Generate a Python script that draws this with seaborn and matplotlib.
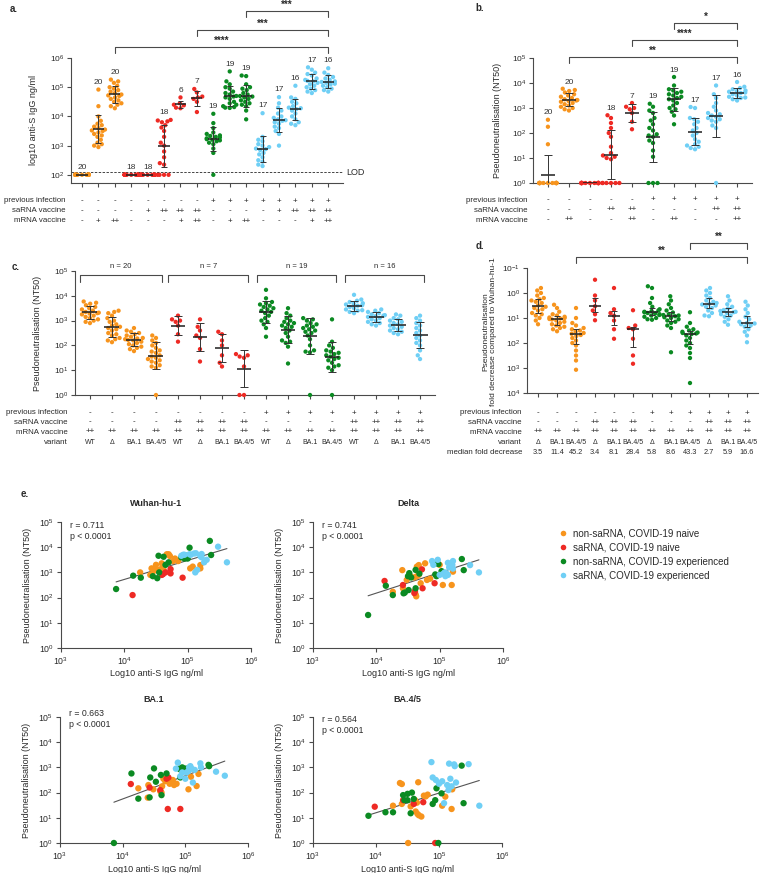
import numpy as np
import pandas as pd
import matplotlib
matplotlib.use('Agg')
import matplotlib.pyplot as plt
import matplotlib.transforms as mtransforms
from matplotlib.lines import Line2D
import seaborn as sns
from warnings import filterwarnings
filterwarnings('ignore')

## ---------------- data (log10 values) ----------------
## panel a: anti-S IgG, 16 groups
a_log10 = [
    [2.0, 2.0, 2.0, 2.0, 2.0, 2.0, 2.0, 2.0, 2.0, 2.0, 2.0, 2.0, 2.0, 2.0, 2.0, 2.0, 2.0, 2.0, 2.0, 2.0],
    [4.92, 4.35, 4.00, 3.85, 3.75, 3.70, 3.65, 3.60, 3.55, 3.52, 3.50, 3.45, 3.40, 3.35, 3.30, 3.20, 3.10, 3.05, 3.00, 2.95],
    [5.26, 5.20, 5.15, 5.05, 5.00, 4.95, 4.90, 4.85, 4.80, 4.75, 4.72, 4.70, 4.65, 4.60, 4.55, 4.50, 4.45, 4.40, 4.35, 4.28],
    [2.0, 2.0, 2.0, 2.0, 2.0, 2.0, 2.0, 2.0, 2.0, 2.0, 2.0, 2.0, 2.0, 2.0, 2.0, 2.0, 2.0, 2.0],
    [2.0, 2.0, 2.0, 2.0, 2.0, 2.0, 2.0, 2.0, 2.0, 2.0, 2.0, 2.0, 2.0, 2.0, 2.0, 2.0, 2.0, 2.0],
    [3.88, 3.86, 3.83, 3.80, 3.70, 3.62, 3.50, 3.30, 3.10, 3.00, 2.80, 2.60, 2.40, 2.35, 2.00, 2.00, 2.00, 2.00],
    [4.65, 4.45, 4.40, 4.38, 4.30, 4.28],
    [4.94, 4.82, 4.68, 4.65, 4.60, 4.50, 4.15],
    [4.09, 3.77, 3.60, 3.45, 3.40, 3.35, 3.33, 3.30, 3.28, 3.25, 3.22, 3.20, 3.18, 3.15, 3.10, 3.05, 2.90, 2.75, 2.00],
    [5.54, 5.20, 5.10, 5.00, 4.95, 4.85, 4.80, 4.75, 4.70, 4.68, 4.65, 4.60, 4.50, 4.45, 4.40, 4.35, 4.32, 4.30, 4.29],
    [5.40, 5.38, 5.10, 5.00, 4.95, 4.90, 4.80, 4.75, 4.70, 4.68, 4.65, 4.60, 4.55, 4.50, 4.45, 4.40, 4.35, 4.20, 3.90],
    [4.11, 3.30, 3.20, 3.15, 3.05, 3.00, 2.95, 2.90, 2.88, 2.85, 2.75, 2.70, 2.60, 2.50, 2.45, 2.35, 2.30],
    [4.66, 4.45, 4.30, 4.20, 4.10, 4.00, 3.95, 3.90, 3.87, 3.85, 3.80, 3.75, 3.65, 3.60, 3.50, 3.40, 3.00],
    [5.05, 4.65, 4.60, 4.50, 4.45, 4.35, 4.30, 4.28, 4.25, 4.20, 4.10, 4.00, 3.90, 3.80, 3.75, 3.70],
    [5.68, 5.60, 5.50, 5.45, 5.40, 5.30, 5.25, 5.22, 5.20, 5.15, 5.10, 5.05, 5.00, 4.95, 4.90, 4.85, 4.80],
    [5.65, 5.50, 5.42, 5.35, 5.30, 5.25, 5.20, 5.18, 5.15, 5.12, 5.10, 5.05, 5.00, 4.95, 4.90, 4.85],
]
a_colors = ['o', 'o', 'o', 'r', 'r', 'r', 'r', 'r', 'g', 'g', 'g', 'b', 'b', 'b', 'b', 'b']
a_n = ['20', '20', '20', '18', '18', '18', '6', '7', '19', '19', '19', '17', '17', '16', '17', '16']
a_prev = ['-'] * 8 + ['+'] * 8
a_sarna = ['-', '-', '-', '-', '+', '++', '++', '++', '-', '-', '-', '-', '+', '++', '++', '++']
a_mrna = ['-', '+', '++', '-', '-', '-', '+', '++', '-', '+', '++', '-', '-', '-', '+', '++']
a_lod = 2.09

## panel b: NT50, 10 groups
b_log10 = [
    [2.53, 2.25, 1.55, 0, 0, 0, 0, 0, 0, 0, 0, 0, 0, 0, 0, 0, 0, 0, 0, 0],
    [3.77, 3.72, 3.68, 3.62, 3.55, 3.50, 3.45, 3.40, 3.35, 3.32, 3.30, 3.28, 3.25, 3.20, 3.15, 3.10, 3.05, 3.00, 2.95, 2.90],
    [0, 0, 0, 0, 0, 0, 0, 0, 0, 0, 0, 0, 0, 0, 0, 0, 0, 0],
    [2.71, 2.60, 2.40, 2.20, 2.00, 1.85, 1.45, 1.20, 1.10, 1.05, 1.00, 0.95, 0, 0, 0, 0, 0, 0],
    [3.20, 3.05, 3.00, 2.95, 2.80, 2.45, 2.15],
    [3.17, 3.05, 2.90, 2.80, 2.60, 2.50, 2.35, 2.20, 2.10, 1.95, 1.90, 1.85, 1.70, 1.60, 1.30, 1.05, 0, 0, 0],
    [4.24, 3.90, 3.75, 3.70, 3.65, 3.60, 3.55, 3.50, 3.45, 3.40, 3.35, 3.30, 3.20, 3.10, 3.00, 2.95, 2.85, 2.70, 2.35],
    [3.04, 3.00, 2.60, 2.55, 2.45, 2.35, 2.20, 2.10, 2.00, 1.90, 1.75, 1.65, 1.55, 1.50, 1.45, 1.40, 1.35],
    [3.90, 3.55, 3.40, 3.20, 3.05, 2.90, 2.80, 2.75, 2.70, 2.65, 2.60, 2.55, 2.50, 2.45, 2.30, 2.20, 0],
    [4.04, 3.85, 3.80, 3.75, 3.70, 3.68, 3.65, 3.62, 3.60, 3.55, 3.50, 3.45, 3.42, 3.40, 3.35, 3.30],
]
b_colors = ['o', 'o', 'r', 'r', 'r', 'g', 'g', 'b', 'b', 'b']
b_n = ['20', '20', '', '18', '7', '19', '19', '17', '17', '16']
b_prev = ['-'] * 5 + ['+'] * 5
b_sarna = ['-', '-', '-', '++', '++', '-', '-', '-', '++', '++']
b_mrna = ['-', '++', '-', '-', '++', '-', '++', '-', '-', '++']

## panel c: NT50 per variant, 16 groups
c_log10 = [
    b_log10[1],
    [3.40, 3.35, 3.30, 3.20, 3.10, 3.00, 2.95, 2.85, 2.80, 2.75, 2.70, 2.65, 2.60, 2.50, 2.45, 2.40, 2.30, 2.25, 2.20, 2.13],
    [2.70, 2.60, 2.55, 2.50, 2.45, 2.40, 2.35, 2.30, 2.28, 2.25, 2.22, 2.20, 2.15, 2.10, 2.05, 2.00, 1.95, 1.90, 1.85, 1.77],
    [2.40, 2.30, 2.20, 2.10, 2.00, 1.90, 1.80, 1.75, 1.70, 1.60, 1.55, 1.50, 1.45, 1.40, 1.35, 1.30, 1.20, 1.15, 1.10, 0],
    b_log10[4],
    [3.05, 2.75, 2.60, 2.40, 2.30, 1.85, 1.35],
    [2.55, 2.45, 2.20, 2.00, 1.60, 1.30, 1.15],
    [1.65, 1.60, 1.55, 1.50, 1.15, 0, 0],
    b_log10[6],
    [3.50, 3.30, 3.20, 3.10, 3.00, 2.95, 2.90, 2.85, 2.80, 2.75, 2.70, 2.60, 2.50, 2.35, 2.20, 2.15, 2.10, 1.95, 1.27],
    [3.10, 3.05, 3.00, 2.90, 2.85, 2.80, 2.75, 2.70, 2.65, 2.60, 2.55, 2.50, 2.40, 2.25, 2.00, 1.80, 1.75, 1.72, 0],
    [3.05, 2.15, 2.00, 1.90, 1.80, 1.75, 1.70, 1.65, 1.60, 1.55, 1.50, 1.45, 1.40, 1.30, 1.20, 1.15, 1.10, 1.00, 0],
    b_log10[9],
    [3.45, 3.40, 3.35, 3.30, 3.25, 3.22, 3.20, 3.18, 3.15, 3.10, 3.05, 3.00, 2.95, 2.90, 2.85, 2.80],
    [3.25, 3.20, 3.10, 3.05, 3.00, 2.95, 2.90, 2.85, 2.80, 2.75, 2.70, 2.65, 2.60, 2.55, 2.50, 2.45],
    [3.20, 3.10, 3.00, 2.90, 2.80, 2.70, 2.60, 2.50, 2.40, 2.30, 2.20, 2.10, 2.00, 1.80, 1.60, 1.45],
]
c_colors = ['o'] * 4 + ['r'] * 4 + ['g'] * 4 + ['b'] * 4
c_prev = ['-'] * 8 + ['+'] * 8
c_sarna = ['-'] * 4 + ['++'] * 4 + ['-'] * 4 + ['++'] * 4
c_mrna = ['++'] * 16
c_variant = ['WT', 'Δ', 'BA.1', 'BA.4/5'] * 4
c_groups = ['n = 20', 'n = 7', 'n = 19', 'n = 16']

## panel d: fold decrease vs Wuhan-hu-1, 12 groups
d_log10 = [
    [-0.2, -0.1, 0.0, 0.1, 0.2, 0.25, 0.3, 0.35, 0.4, 0.5, 0.55, 0.6, 0.65, 0.7, 0.8, 0.85, 0.9, 1.0, 1.1, 1.25],
    [0.47, 0.6, 0.75, 0.85, 0.9, 0.95, 0.98, 1.0, 1.02, 1.04, 1.06, 1.1, 1.15, 1.2, 1.25, 1.3, 1.35, 1.4, 1.45, 1.53],
    [0.6, 1.0, 1.2, 1.3, 1.4, 1.45, 1.5, 1.55, 1.6, 1.63, 1.68, 1.72, 1.8, 1.9, 2.0, 2.1, 2.3, 2.5, 2.7, 3.07],
    [-0.53, 0.1, 0.3, 0.53, 0.7, 0.85, 1.09],
    [-0.2, 0.65, 0.8, 0.91, 1.1, 1.45, 1.83],
    [0.69, 1.3, 1.4, 1.45, 1.83, 2.5, 2.83],
    [-0.27, -0.2, 0.2, 0.4, 0.55, 0.65, 0.7, 0.72, 0.75, 0.77, 0.8, 0.82, 0.85, 0.88, 0.9, 0.95, 1.0, 1.05, 1.07],
    [0.13, 0.3, 0.45, 0.6, 0.7, 0.78, 0.85, 0.88, 0.9, 0.93, 0.97, 1.0, 1.05, 1.1, 1.15, 1.2, 1.3, 1.4, 2.37],
    [0.77, 1.2, 1.35, 1.45, 1.5, 1.55, 1.58, 1.6, 1.62, 1.64, 1.7, 1.8, 1.9, 2.0, 2.1, 2.2, 2.4, 2.6, 3.6],
    [-0.2, -0.1, 0.0, 0.1, 0.2, 0.3, 0.35, 0.4, 0.43, 0.46, 0.5, 0.55, 0.6, 0.7, 0.8, 0.9, 0.93],
    [0.13, 0.3, 0.45, 0.55, 0.62, 0.68, 0.72, 0.75, 0.77, 0.8, 0.85, 0.9, 0.95, 1.05, 1.15, 1.27],
    [0.35, 0.5, 0.65, 0.8, 0.95, 1.05, 1.15, 1.2, 1.22, 1.25, 1.3, 1.35, 1.45, 1.55, 1.7, 1.97],
]
d_colors = ['o'] * 3 + ['r'] * 3 + ['g'] * 3 + ['b'] * 3
d_prev = ['-'] * 6 + ['+'] * 6
d_sarna = ['-'] * 3 + ['++'] * 3 + ['-'] * 3 + ['++'] * 3
d_mrna = ['++'] * 12
d_variant = ['Δ', 'BA.1', 'BA.4/5'] * 4
d_median = ['3.5', '11.4', '45.2', '3.4', '8.1', '28.4', '5.8', '8.6', '43.3', '2.7', '5.9', '16.6']

## panel e: log10 anti-S IgG (x) vs log10 NT50 (y); order: orange, red, green, blue
e_groups = ['non-saRNA, COVID-19 naive', 'saRNA, COVID-19 naive',
            'non-saRNA, COVID-19 experienced', 'saRNA, COVID-19 experienced']
wuhan_x = [[4.25, 4.41, 4.43, 4.48, 4.46, 4.50, 4.55, 4.59, 4.60, 4.62, 4.67, 4.70, 4.72, 4.77, 4.80, 4.85, 5.04, 5.08, 5.20, 5.20],
           [4.13, 4.59, 4.61, 4.73, 4.73, 4.92, 4.65],
           [3.87, 4.14, 4.26, 4.52, 4.54, 4.62, 4.70, 4.93, 4.96, 4.98, 5.03, 5.35, 5.37, 4.95, 4.55, 4.65, 4.90, 5.00, 4.45],
           [4.90, 4.93, 5.03, 5.10, 5.13, 5.22, 5.22, 5.12, 5.26, 5.48, 5.62, 5.30, 5.15, 5.05, 4.95, 5.20]]
wuhan_y = [[3.00, 2.90, 3.16, 3.16, 3.05, 3.30, 3.10, 3.36, 3.20, 3.10, 3.72, 3.72, 3.65, 3.45, 3.55, 3.45, 3.16, 3.23, 3.29, 3.16],
           [2.10, 2.90, 2.93, 3.13, 2.96, 2.79, 3.00],
           [2.34, 2.87, 2.79, 2.77, 3.66, 3.62, 3.40, 3.63, 3.60, 3.66, 3.98, 4.25, 3.69, 3.55, 3.00, 3.30, 3.60, 3.55, 2.85],
           [3.66, 3.70, 3.72, 3.75, 3.76, 3.73, 3.60, 3.00, 3.40, 4.02, 3.40, 3.50, 3.10, 3.70, 3.70, 3.65]]
delta_x = [[4.26, 4.41, 4.42, 4.48, 4.54, 4.60, 4.64, 4.67, 4.62, 4.64, 4.67, 4.70, 4.77, 4.80, 4.85, 5.00, 5.05, 5.19, 5.21, 4.63],
           [4.13, 4.42, 4.61, 4.73, 4.92, 4.72, 4.60],
           [3.87, 4.15, 4.26, 4.43, 4.51, 4.52, 4.55, 4.62, 4.62, 4.68, 4.93, 4.95, 4.91, 4.98, 5.03, 5.35, 5.38, 4.50, 4.45],
           [4.88, 4.90, 4.97, 5.06, 5.09, 5.11, 5.13, 5.13, 5.15, 5.20, 5.21, 5.21, 5.48, 5.62, 5.08, 5.00]]
delta_y = [[2.23, 3.09, 2.37, 2.70, 2.85, 2.80, 2.85, 2.90, 2.13, 3.23, 3.29, 2.57, 3.36, 2.70, 2.75, 3.30, 2.50, 2.50, 3.03, 2.05],
           [2.66, 2.50, 2.26, 2.37, 2.57, 3.12, 2.18],
           [1.31, 2.47, 2.10, 2.17, 2.30, 2.97, 2.80, 2.37, 3.10, 2.95, 2.92, 2.85, 3.35, 3.33, 3.05, 3.53, 3.09, 2.85, 2.20],
           [3.45, 3.30, 3.50, 2.95, 2.85, 2.95, 2.90, 3.38, 3.20, 3.30, 3.45, 3.15, 3.29, 3.00, 3.00, 2.90]]
ba1_x = [[4.25, 4.40, 4.41, 4.49, 4.60, 4.62, 4.63, 4.65, 4.68, 4.70, 4.73, 4.75, 4.79, 4.82, 4.86, 4.80, 5.05, 5.09, 5.18, 5.21],
         [4.13, 4.43, 4.73, 4.72, 4.92, 4.70, 4.60],
         [3.86, 4.14, 4.25, 4.43, 4.44, 4.50, 4.53, 4.61, 4.62, 4.70, 4.90, 4.93, 4.95, 4.96, 4.98, 5.01, 4.92, 5.37, 5.38],
         [4.88, 4.85, 4.92, 5.00, 5.02, 5.06, 5.08, 5.12, 5.10, 5.15, 5.24, 5.25, 5.49, 5.63, 4.95, 5.05]]
ba1_y = [[2.17, 1.80, 2.30, 2.13, 2.05, 2.00, 2.25, 2.55, 2.45, 2.50, 2.45, 2.35, 2.40, 2.30, 2.35, 2.50, 2.13, 2.63, 2.26, 2.74],
         [2.34, 2.20, 2.60, 1.35, 1.35, 2.55, 2.10],
         [0.00, 2.76, 1.76, 1.81, 2.60, 2.96, 2.43, 2.70, 1.90, 2.76, 2.95, 2.90, 3.00, 2.90, 2.95, 2.95, 2.60, 3.10, 3.05],
         [3.19, 2.95, 2.65, 2.55, 2.80, 3.00, 3.05, 2.40, 2.95, 2.90, 3.16, 3.00, 2.83, 2.67, 2.80, 2.85]]
ba45_x = [[4.27, 4.38, 4.41, 4.67, 4.41, 4.51, 4.55, 4.62, 4.65, 4.63, 4.66, 4.68, 4.72, 4.76, 4.79, 4.82, 5.10, 5.05, 5.20, 5.21],
          [3.98, 4.43, 4.60, 4.75, 4.94],
          [3.88, 4.15, 4.27, 4.43, 4.50, 4.57, 4.50, 4.45, 4.60, 4.55, 4.96, 5.04, 4.94, 4.90, 5.36, 5.39, 4.99],
          [4.88, 5.16, 5.24, 5.25, 5.47, 4.90, 4.95, 5.05, 5.13, 5.18, 5.20, 5.27, 5.00, 5.08, 5.64, 5.15]]
ba45_y = [[1.48, 2.38, 2.34, 2.41, 1.55, 0.00, 1.45, 1.70, 1.60, 1.25, 1.15, 1.10, 1.05, 1.88, 1.85, 1.92, 1.84, 1.48, 1.35, 2.13],
          [1.44, 1.70, 1.55, 1.62, 0.00],
          [1.08, 1.22, 1.22, 1.90, 1.95, 2.00, 1.70, 1.70, 1.75, 1.18, 2.17, 1.97, 1.70, 1.55, 3.07, 1.58, 0.00],
          [3.21, 3.15, 3.12, 3.05, 3.13, 2.60, 2.50, 2.45, 2.30, 2.55, 2.25, 2.40, 2.35, 1.58, 1.48, 2.10]]
e_titles = ['Wuhan-hu-1', 'Delta', 'BA.1', 'BA.4/5']
e_stats = ['r = 0.711\np < 0.0001', 'r = 0.741\np < 0.0001', 'r = 0.663\np < 0.0001', 'r = 0.564\np < 0.0001']

## ---------------- style ----------------
COL = {'o': '#f7941d', 'r': '#ee2a24', 'g': '#0b8a22', 'b': '#6fcff5'}
AXC = '#4a4a4a'
TXT = '#2a2a2a'
W, H = 763, 873
ROWFS = 5.7

sns.set_style('ticks')
plt.rcParams['font.family'] = ['Liberation Sans', 'DejaVu Sans']
plt.rcParams['mathtext.fontset'] = 'custom'
plt.rcParams['mathtext.rm'] = 'Liberation Sans'
plt.rcParams['mathtext.it'] = 'Liberation Sans:italic'
plt.rcParams['mathtext.bf'] = 'Liberation Sans:bold'

fig = plt.figure(figsize=(W / 100, H / 100), dpi=100)


def fx(x):
    return x / W


def fy(y):
    return 1 - y / H


def add_ax(l, t, r, b):
    return fig.add_axes([l / W, 1 - b / H, (r - l) / W, (b - t) / H])


def style(ax):
    sns.despine(ax=ax)
    for s in ('left', 'bottom'):
        ax.spines[s].set_color(AXC)
        ax.spines[s].set_linewidth(0.8)
    ax.tick_params(colors=AXC, labelcolor=TXT, labelsize=6, width=0.8, length=3, pad=2)


def pow_labels(ticks):
    return [f'$10^{{{t}}}$' for t in ticks]


def dot_panel(ax, vals, cols, xlim, ylim, yticks, summary='mean'):
    names = [f'g{i}' for i in range(len(vals))]
    df = pd.DataFrame({'grp': np.repeat(names, [len(v) for v in vals]),
                       'val': np.concatenate([np.asarray(v, float) for v in vals])})
    ax.set_ylim(*ylim)
    sns.swarmplot(data=df, x='grp', y='val', hue='grp', order=names, hue_order=names,
                  palette=dict(zip(names, [COL[c] for c in cols])), size=3.1,
                  linewidth=0, legend=False, warn_thresh=1, clip_on=False, ax=ax)
    for i, v in enumerate(vals):
        v = np.asarray(v, float)
        if summary == 'mean':
            mid = v.mean()
            sd = v.std(ddof=1)
            lo, hi = mid - sd, mid + sd
        else:
            mid = np.median(v)
            lo, hi = np.percentile(v, [25, 75])
        ax.hlines(mid, i - 0.34, i + 0.34, color='#1e1e1e', lw=1.1, zorder=5)
        ax.vlines(i, lo, hi, color='#333333', lw=0.7, zorder=5)
        ax.hlines([lo, hi], i - 0.18, i + 0.18, color='#333333', lw=0.7, zorder=5)
    ax.set_xlim(*xlim)
    ax.set_ylim(*ylim)
    ax.set_xticks(range(len(vals)))
    ax.set_xticklabels([])
    ax.set_yticks(yticks)
    ax.set_yticklabels(pow_labels(yticks))
    ax.set_xlabel('')
    ax.set_ylabel('')
    style(ax)


def table_rows(ax, rows, names, ys, xname, sizes=None):
    tr = mtransforms.blended_transform_factory(ax.transData, fig.transFigure)
    sizes = sizes or [5.8] * len(rows)
    for row, name, y, fs in zip(rows, names, ys, sizes):
        fig.text(fx(xname), fy(y), name, ha='right', va='center', fontsize=ROWFS, color=TXT)
        for i, s in enumerate(row):
            ax.text(i, fy(y), s, transform=tr, ha='center', va='center', fontsize=fs, color=TXT)


def bracket(ax, i0, i1, ypx, text, tpx, drop=6, bold=True, fs=7):
    tr = mtransforms.blended_transform_factory(ax.transData, fig.transFigure)
    ax.plot([i0, i0, i1, i1], [fy(ypx + drop), fy(ypx), fy(ypx), fy(ypx + drop)],
            transform=tr, color=AXC, lw=0.8, clip_on=False)
    ax.text((i0 + i1) / 2, fy(tpx), text, transform=tr, ha='center', va='center',
            fontsize=fs, fontweight='bold' if bold else 'normal', color=TXT)


def n_labels(ax, vals, labels):
    for i, (v, s) in enumerate(zip(vals, labels)):
        if s:
            ax.text(i, max(v) + 0.13, s, ha='center', va='bottom', fontsize=6, color='#333333')


## ---------------- panel a ----------------
ax_a = add_ax(71, 58, 343, 183)
dot_panel(ax_a, a_log10, a_colors, (-0.67, 15.9), (1.72, 6), [2, 3, 4, 5, 6])
n_labels(ax_a, a_log10, a_n)
ax_a.axhline(a_lod, color='#444444', lw=0.7, ls=(0, (2.5, 1.5)), xmax=1, zorder=1)
ax_a.text(1.012, a_lod, 'LOD', transform=mtransforms.blended_transform_factory(ax_a.transAxes, ax_a.transData),
          va='center', ha='left', fontsize=6.5, color=TXT)
table_rows(ax_a, [a_prev, a_sarna, a_mrna], ['previous infection', 'saRNA vaccine', 'mRNA vaccine'],
           [201, 211, 221], 66)
bracket(ax_a, 2, 15, 47, '****', 41)
bracket(ax_a, 7, 15, 30, '***', 24)
bracket(ax_a, 10, 15, 11, '***', 5)
fig.text(fx(33), fy(120), 'log10 anti-S IgG ng/ml', rotation=90, ha='center', va='center', fontsize=6.5, color=TXT)
fig.text(fx(10), fy(9), 'a.', fontsize=7, fontweight='bold', va='center', color=TXT)

## ---------------- panel b ----------------
ax_b = add_ax(533, 58, 752, 183)
dot_panel(ax_b, b_log10, b_colors, (-0.71, 9.71), (0, 5), [0, 1, 2, 3, 4, 5])
n_labels(ax_b, b_log10, b_n)
table_rows(ax_b, [b_prev, b_sarna, b_mrna], ['previous infection', 'saRNA vaccine', 'mRNA vaccine'],
           [200, 210, 220], 528)
bracket(ax_b, 1, 9, 57, '**', 51)
bracket(ax_b, 4, 9, 40, '****', 34)
bracket(ax_b, 6, 9, 23, '*', 17)
fig.text(fx(497), fy(120), 'Pseudoneutralisation (NT50)', rotation=90, ha='center', va='center', fontsize=6.5, color=TXT)
fig.text(fx(475), fy(8), 'b.', fontsize=7, fontweight='bold', va='center', color=TXT)

## ---------------- panel c ----------------
ax_c = add_ax(75, 271, 435, 395)
dot_panel(ax_c, c_log10, c_colors, (-0.68, 15.68), (0, 5), [0, 1, 2, 3, 4, 5])
table_rows(ax_c, [c_prev, c_sarna, c_mrna, c_variant],
           ['previous infection', 'saRNA vaccine', 'mRNA vaccine', 'variant'],
           [413, 422, 432, 442], 68, sizes=[5.8, 5.8, 5.8, 5])
for lbl, (x0, x1) in zip(c_groups, [(-0.45, 3.27), (3.55, 7.2), (7.6, 11.2), (11.6, 15.2)]):
    bracket(ax_c, x0, x1, 275, lbl, 267, drop=7, bold=False, fs=5.5)
fig.text(fx(37), fy(333), 'Pseudoneutralisation (NT50)', rotation=90, ha='center', va='center', fontsize=6.5, color=TXT)
fig.text(fx(12), fy(267), 'c.', fontsize=7, fontweight='bold', va='center', color=TXT)

## ---------------- panel d ----------------
ax_d = add_ax(527, 268, 758, 393)
dot_panel(ax_d, d_log10, d_colors, (-0.58, 11.58), (4, -1), [-1, 0, 1, 2, 3, 4], summary='median')
table_rows(ax_d, [d_prev, d_sarna, d_mrna, d_variant, d_median],
           ['previous infection', 'saRNA vaccine', 'mRNA vaccine', 'variant', 'median fold decrease'],
           [413, 422, 432, 442, 452], 522, sizes=[5.8, 5.8, 5.8, 5.0, 5.3])
bracket(ax_d, 2, 11, 257, '**', 251)
bracket(ax_d, 8, 11, 243, '**', 237)
fig.text(fx(490), fy(332), 'Pseudoneutralisation\nfold decrease compared to Wuhan-hu-1', rotation=90,
         ha='center', va='center', fontsize=6.0, color=TXT, linespacing=1.1)
fig.text(fx(476), fy(246), 'd.', fontsize=7, fontweight='bold', va='center', color=TXT)

## ---------------- panel e ----------------
fig.text(fx(21), fy(494), 'e.', fontsize=7, fontweight='bold', va='center', color=TXT)
e_boxes = [(61, 522, 251, 648), (313, 522, 503, 648), (60, 717, 248, 843), (313, 717, 502, 843)]
e_data = [(wuhan_x, wuhan_y), (delta_x, delta_y), (ba1_x, ba1_y), (ba45_x, ba45_y)]
e_stat_top = [521, 521, 709, 715]
e_pal = dict(zip(e_groups, [COL[c] for c in 'orgb']))

for (l, t, r, b), (xs, ys), title, stat, st in zip(e_boxes, e_data, e_titles, e_stats, e_stat_top):
    ax = add_ax(l, t, r, b)
    df = pd.DataFrame({'x': np.concatenate(xs), 'y': np.concatenate(ys),
                       'grp': np.repeat(e_groups, [len(v) for v in xs])})
    sns.regplot(data=df, x='x', y='y', scatter=False, ci=None, truncate=True,
                line_kws=dict(color='#555555', lw=0.8), ax=ax)
    sns.scatterplot(data=df, x='x', y='y', hue='grp', hue_order=e_groups, palette=e_pal,
                    s=21, linewidth=0, legend=False, clip_on=False, zorder=3, ax=ax)
    ax.set_xlim(3, 6)
    ax.set_ylim(0, 5)
    ax.set_xticks([3, 4, 5, 6])
    ax.set_xticklabels(pow_labels([3, 4, 5, 6]))
    ax.set_yticks([0, 1, 2, 3, 4, 5])
    ax.set_yticklabels(pow_labels([0, 1, 2, 3, 4, 5]))
    ax.set_xlabel('')
    ax.set_ylabel('')
    style(ax)
    ax.tick_params(labelsize=6.3)
    cx = (l + r) / 2
    fig.text(fx(cx), fy(t - 18), title, ha='center', va='center', fontsize=6.5, fontweight='bold', color=TXT)
    fig.text(fx(l + 9), fy(st), stat, ha='left', va='top', fontsize=6.3, color=TXT, linespacing=1.3)
    fig.text(fx(cx), fy(b + 26), 'Log10 anti-S IgG ng/ml', ha='center', va='center', fontsize=6.5, color=TXT)
    fig.text(fx(l - 33), fy((t + b) / 2), 'Pseudoneutralisation (NT50)', rotation=90,
             ha='center', va='center', fontsize=6.5, color=TXT)

handles = [Line2D([], [], marker='o', ls='', color=COL[c], markersize=4, markeredgewidth=0) for c in 'orgb']
fig.legend(handles, e_groups, loc='upper left', bbox_to_anchor=(fx(553), fy(525)), frameon=False,
           fontsize=7, handletextpad=0.5, labelspacing=0.4, borderaxespad=0, handlelength=1.2,
           labelcolor=TXT)

fig.savefig('out.png', dpi=100, facecolor='white')
